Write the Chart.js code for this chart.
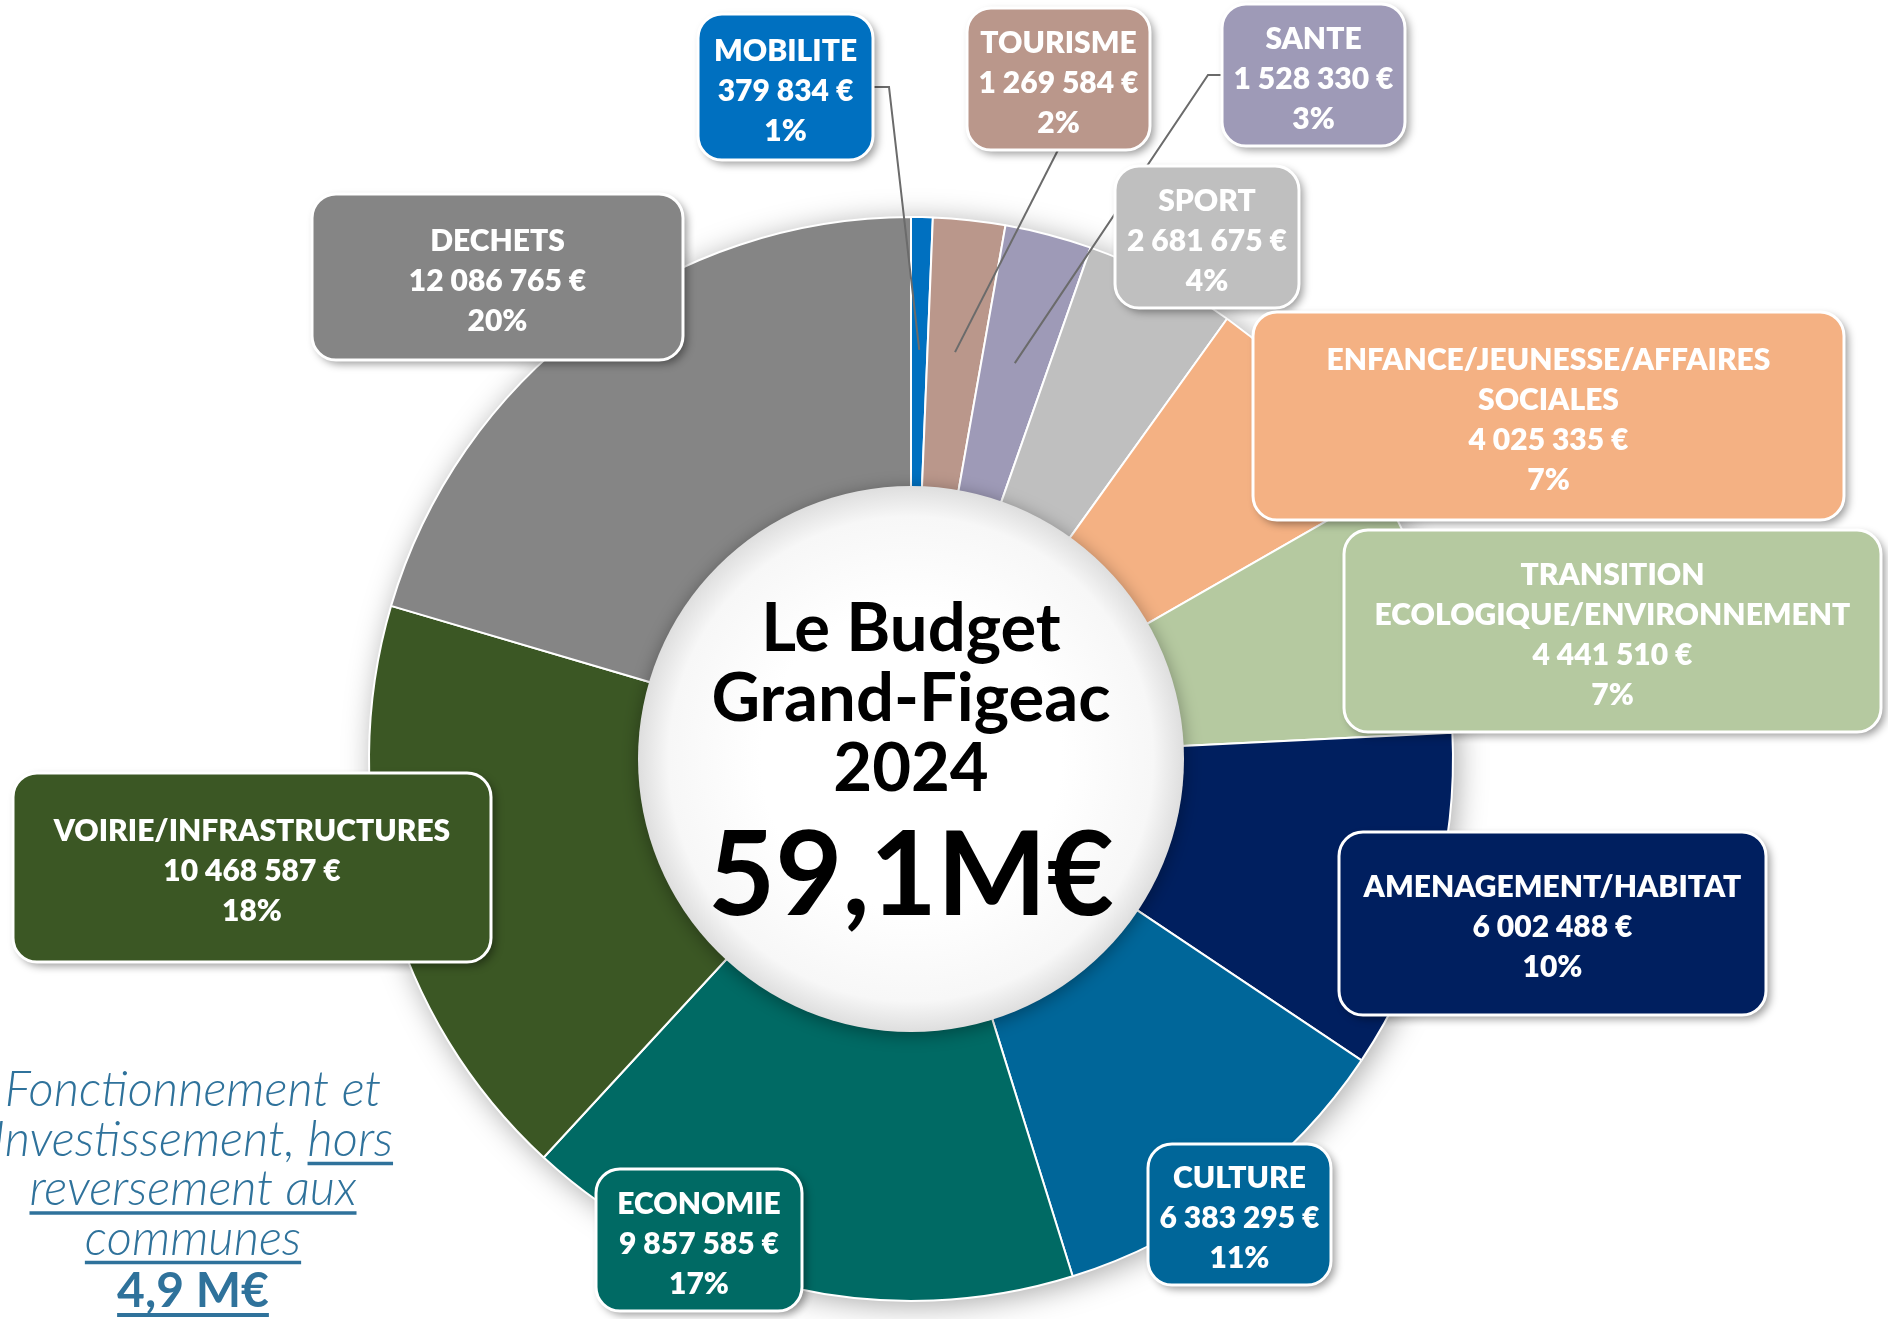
<!DOCTYPE html>
<html lang="fr">
<head>
<meta charset="UTF-8">
<title>Le Budget Grand-Figeac 2024</title>
<style>
  html, body { margin: 0; padding: 0; background: #fff; }
  canvas { display: block; }
</style>
</head>
<body>
<canvas id="budget" width="1888" height="1319"></canvas>
<script src="https://cdn.jsdelivr.net/npm/chart.js@4.4.1/dist/chart.umd.min.js"></script>
<script>
// data (clockwise from 12 o'clock)
const categories = [
  'MOBILITE', 'TOURISME', 'SANTE', 'SPORT',
  'ENFANCE/JEUNESSE/AFFAIRES\nSOCIALES',
  'TRANSITION\nECOLOGIQUE/ENVIRONNEMENT',
  'AMENAGEMENT/HABITAT', 'CULTURE', 'ECONOMIE',
  'VOIRIE/INFRASTRUCTURES', 'DECHETS'
]
const amounts = [379834, 1269584, 1528330, 2681675, 4025335, 4441510, 6002488, 6383295, 9857585, 10468587, 12086765]
const percentLabels = ['1%', '2%', '3%', '4%', '7%', '7%', '10%', '11%', '17%', '18%', '20%']
const sliceColors = ['#0070C0', '#BA978B', '#9E9AB7', '#BFBFBF', '#F4B183', '#B5C9A0',
                     '#001F5F', '#006699', '#006A64', '#3B5724', '#858585']
const centerLines = ['Le Budget', 'Grand-Figeac', '2024']
const centerTotal = '59,1M€'
const noteLines = [
  [['Fonctionnement et', false]],
  [['Investissement, ', false], ['hors', true]],
  [['reversement aux', true]],
  [['communes', true]]
]
const noteAmount = '4,9 M€'

// label boxes layout: [x, y, w, h]
const boxes = [
  [698, 14, 175, 146], [967, 8, 183, 142], [1222, 4, 183, 142], [1115, 166, 184, 142],
  [1253, 312, 591, 208], [1344, 530, 537, 202], [1339, 832, 427, 183], [1148, 1144, 183, 141],
  [596, 1169, 206, 142], [13, 773, 478, 189], [312, 194, 371, 166]
]
// leader lines: index -> points leading from the box to the slice
const leaders = {
  0: [[873, 87], [889, 87]],
  1: [[1058, 150]],
  2: [[1222, 75], [1208, 75]]
}

const fmt = v => String(v).replace(/\B(?=(\d{3})+(?!\d))/g, ' ') + ' €'

function roundRect(ctx, x, y, w, h, r) {
  ctx.beginPath()
  ctx.moveTo(x + r, y)
  ctx.arcTo(x + w, y, x + w, y + h, r)
  ctx.arcTo(x + w, y + h, x, y + h, r)
  ctx.arcTo(x, y + h, x, y, r)
  ctx.arcTo(x, y, x + w, y, r)
  ctx.closePath()
}

const decor = {
  id: 'decor',
  beforeDatasetsDraw(chart) {
    // soft shadow behind the ring
    const arc = chart.getDatasetMeta(0).data[0]
    const ctx = chart.ctx
    ctx.save()
    ctx.shadowColor = 'rgba(0,0,0,0.35)'
    ctx.shadowBlur = 30
    ctx.shadowOffsetX = 4
    ctx.shadowOffsetY = 4
    ctx.fillStyle = '#fff'
    ctx.beginPath()
    ctx.arc(arc.x, arc.y, arc.outerRadius, 0, Math.PI * 2)
    ctx.fill()
    ctx.restore()
  },
  afterDatasetsDraw(chart) {
    const ctx = chart.ctx
    const arcs = chart.getDatasetMeta(0).data
    const cx = arcs[0].x, cy = arcs[0].y
    const R = arcs[0].outerRadius
    const r = arcs[0].innerRadius + 2

    // center disc
    ctx.save()
    ctx.shadowColor = 'rgba(0,0,0,0.35)'
    ctx.shadowBlur = 18
    ctx.shadowOffsetY = 3
    const g = ctx.createRadialGradient(cx, cy, r * 0.55, cx, cy, r)
    g.addColorStop(0, '#ffffff')
    g.addColorStop(0.75, '#f7f7f7')
    g.addColorStop(1, '#dedede')
    ctx.fillStyle = g
    ctx.beginPath()
    ctx.arc(cx, cy, r, 0, Math.PI * 2)
    ctx.fill()
    ctx.restore()

    ctx.save()
    ctx.fillStyle = '#000'
    ctx.textAlign = 'center'
    ctx.textBaseline = 'alphabetic'
    ctx.font = 'bold 67px Lato'
    ctx.fillText(centerLines[0], cx, cy - 108)
    ctx.fillText(centerLines[1], cx, cy - 38)
    ctx.fillText(centerLines[2], cx, cy + 32)
    ctx.font = 'bold 116px Lato'
    ctx.fillText(centerTotal, cx, cy + 156)
    ctx.restore()

    // leader lines
    ctx.save()
    ctx.strokeStyle = '#6b6b6b'
    ctx.lineWidth = 2
    Object.keys(leaders).forEach(k => {
      const a = arcs[k]
      const mid = (a.startAngle + a.endAngle) / 2
      const ex = cx + Math.cos(mid) * R * 0.755
      const ey = cy + Math.sin(mid) * R * 0.755
      const pts = leaders[k]
      ctx.beginPath()
      ctx.moveTo(pts[0][0], pts[0][1])
      pts.slice(1).forEach(p => ctx.lineTo(p[0], p[1]))
      ctx.lineTo(ex, ey)
      ctx.stroke()
    })
    ctx.restore()

    // label boxes
    boxes.forEach((b, i) => {
      const [x, y, w, h] = b
      ctx.save()
      ctx.shadowColor = 'rgba(0,0,0,0.4)'
      ctx.shadowBlur = 8
      ctx.shadowOffsetX = 4
      ctx.shadowOffsetY = 4
      roundRect(ctx, x, y, w, h, 24)
      ctx.fillStyle = sliceColors[i]
      ctx.fill()
      ctx.restore()
      ctx.save()
      roundRect(ctx, x, y, w, h, 24)
      ctx.strokeStyle = '#ffffff'
      ctx.lineWidth = 3
      ctx.stroke()

      const lines = categories[i].split('\n').concat([fmt(amounts[i]), percentLabels[i]])
      const fs = 30
      const step = 40
      const mid = y + h / 2
      ctx.fillStyle = '#fff'
      ctx.textAlign = 'center'
      ctx.textBaseline = 'alphabetic'
      ctx.font = '800 ' + fs + 'px Lato'
      lines.forEach((t, j) => {
        const ly = mid + (j - (lines.length - 1) / 2) * step + fs * 0.36 + 3
        ctx.fillText(t, x + w / 2, ly)
      })
      ctx.restore()
    })

    // bottom-left note
    ctx.save()
    const noteX = 193
    const color = '#2F729B'
    ctx.fillStyle = color
    ctx.strokeStyle = color
    ctx.lineWidth = 3.5
    ctx.textAlign = 'left'
    ctx.textBaseline = 'alphabetic'
    ctx.font = 'italic 300 49px Lato'
    noteLines.forEach((segs, j) => {
      const by = 1106 + j * 49.5
      const total = segs.reduce((s, seg) => s + ctx.measureText(seg[0]).width, 0)
      let sx = noteX - total / 2
      segs.forEach(seg => {
        const wd = ctx.measureText(seg[0]).width
        ctx.fillText(seg[0], sx, by)
        if (seg[1]) {
          ctx.beginPath()
          ctx.moveTo(sx, by + 8)
          ctx.lineTo(sx + wd, by + 8)
          ctx.stroke()
        }
        sx += wd
      })
    })
    ctx.font = 'bold 48px Lato'
    const aw = ctx.measureText(noteAmount).width
    ctx.fillText(noteAmount, noteX - aw / 2, 1307)
    ctx.lineWidth = 4
    ctx.beginPath()
    ctx.moveTo(noteX - aw / 2, 1315)
    ctx.lineTo(noteX + aw / 2, 1315)
    ctx.stroke()
    ctx.restore()
  }
}

const ctx = document.getElementById('budget').getContext('2d')
const chart = new Chart(ctx, {
  type: 'doughnut',
  data: {
    labels: categories,
    datasets: [{
      data: amounts,
      backgroundColor: sliceColors,
      borderColor: '#ffffff',
      borderWidth: 2,
      radius: 542,
      hoverOffset: 0
    }]
  },
  options: {
    responsive: false,
    animation: false,
    cutout: '50%',
    layout: { padding: { left: 0, right: 66, top: 199, bottom: 0 } },
    plugins: {
      legend: { display: false },
      tooltip: { enabled: false }
    }
  },
  plugins: [decor]
})
</script>
</body>
</html>
